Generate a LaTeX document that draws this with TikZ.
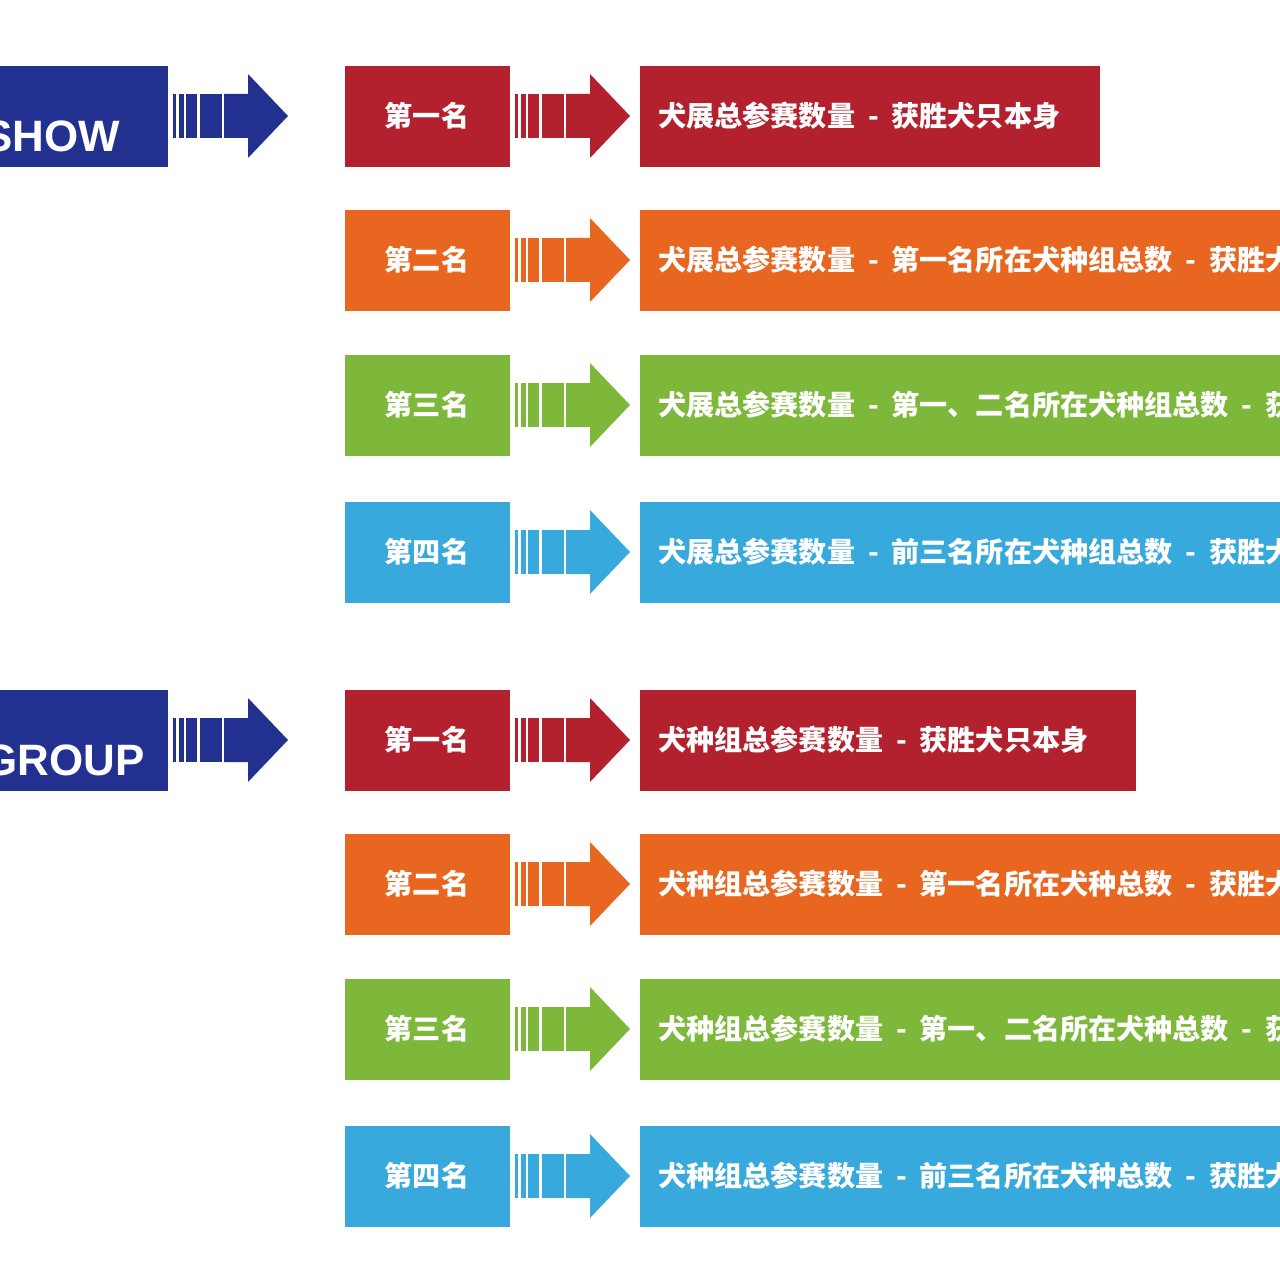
\documentclass[tikz,border=0pt]{standalone}
\usepackage{fontspec}
\setsansfont{Liberation Sans}
\newfontfamily\cjk{Noto Sans CJK SC}
\usetikzlibrary{positioning}
\definecolor{cred}{HTML}{B3202E}
\definecolor{corange}{HTML}{E8661F}
\definecolor{cgreen}{HTML}{7DB83A}
\definecolor{cblue}{HTML}{37A9DD}
\definecolor{cnavy}{HTML}{22318F}
% striped arrow: #1 = left x, #2 = centre y, #3 = colour
\newcommand{\bararrow}[3]{%
  \fill[#3] (#1,#2-22) rectangle ++(3,44);
  \fill[#3] (#1+6,#2-22) rectangle ++(5,44);
  \fill[#3] (#1+13,#2-22) rectangle ++(11,44);
  \fill[#3] (#1+27,#2-22) rectangle ++(22,44);
  \fill[#3] (#1+51,#2-22) -- ++(24,0) -- ++(0,-20) -- ++(40,42) -- ++(-40,42) -- ++(0,-20) -- ++(-24,0) -- cycle;}
\begin{document}
\begin{tikzpicture}[x=0.02cm,y=-0.02cm,
    long box/.style={anchor=west,text=white,font=\cjk\bfseries\fontsize{16}{16}\selectfont,inner sep=0pt},
    head box/.style={anchor=east,text=white,font=\sffamily\bfseries\fontsize{25}{25}\selectfont,inner sep=0pt}]
  \useasboundingbox (0,0) rectangle (1280,1280);
  \clip (0,0) rectangle (1280,1280);
  % two groups
  \foreach \gy/\gname/\gnode/\gx in {116/SHOW/show/120,740/GROUP/group/145}{
    \fill[cnavy] (0,\gy-50) rectangle (168,\gy+51);
    \node[head box] (\gnode) at (\gx,\gy+20) {\gname};
    \bararrow{173}{\gy}{cnavy}
  }
  % rows
  \foreach \ry/\col/\rank/\txt/\lend [count=\i] in {
      116/cred/第一名/{犬展总参赛数量\ \ - \ 获胜犬只本身}/1100,
      260/corange/第二名/{犬展总参赛数量\ \ - \ 第一名所在犬种组总数\ \ - \ 获胜犬只本身}/1300,
      405/cgreen/第三名/{犬展总参赛数量\ \ - \ 第一、二名所在犬种组总数\ \ - \ 获胜犬只本身}/1300,
      552/cblue/第四名/{犬展总参赛数量\ \ - \ 前三名所在犬种组总数\ \ - \ 获胜犬只本身}/1300,
      740/cred/第一名/{犬种组总参赛数量\ \ - \ 获胜犬只本身}/1136,
      884/corange/第二名/{犬种组总参赛数量\ \ - \ 第一名所在犬种总数\ \ - \ 获胜犬只本身}/1300,
      1029/cgreen/第三名/{犬种组总参赛数量\ \ - \ 第一、二名所在犬种总数\ \ - \ 获胜犬只本身}/1300,
      1176/cblue/第四名/{犬种组总参赛数量\ \ - \ 前三名所在犬种总数\ \ - \ 获胜犬只本身}/1300}{
    \fill[\col] (345,\ry-50) rectangle (510,\ry+51);
    \node[text=white,font=\cjk\bfseries\fontsize{16}{16}\selectfont] (rank\i) at (427,\ry) {\rank};
    \bararrow{515}{\ry}{\col}
    \fill[\col] (640,\ry-50) rectangle (\lend,\ry+51);
    \node[long box] (score\i) at (658,\ry) {\txt};
  }
\end{tikzpicture}
\end{document}
